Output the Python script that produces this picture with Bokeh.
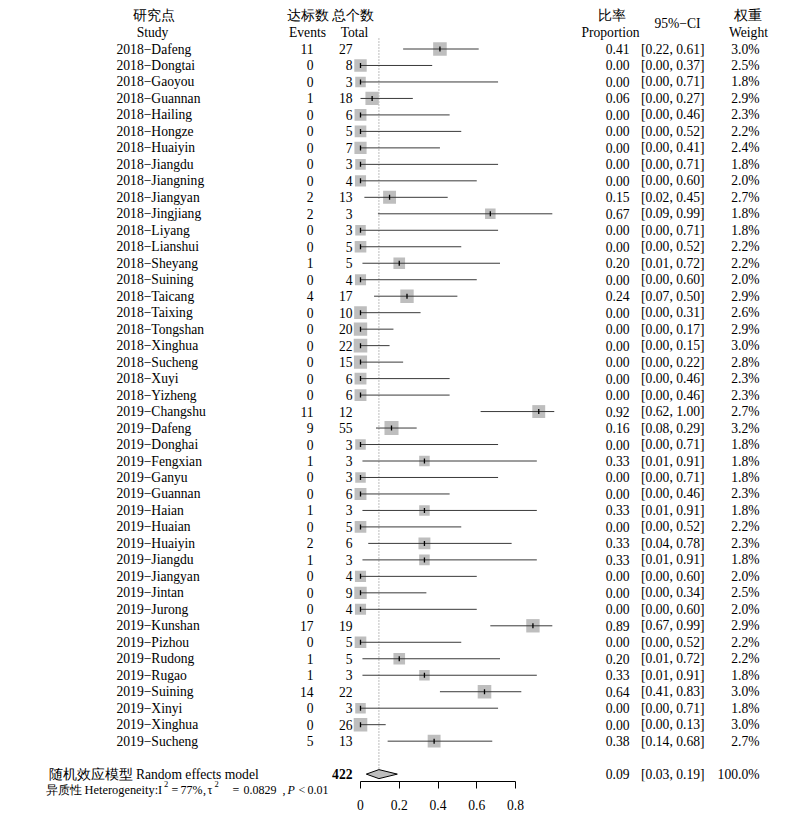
import numpy as np
from bokeh.plotting import figure
from bokeh.layouts import row
from bokeh.models import Range1d, LinearAxis, FixedTicker, CustomJSTickFormatter, ColumnDataSource
from bokeh.core.properties import value
from bokeh.embed import file_html
from bokeh.resources import INLINE

# ---------------- data ----------------
studies = ["2018\u2212Dafeng", "2018\u2212Dongtai", "2018\u2212Gaoyou", "2018\u2212Guannan", "2018\u2212Hailing",
           "2018\u2212Hongze", "2018\u2212Huaiyin", "2018\u2212Jiangdu", "2018\u2212Jiangning", "2018\u2212Jiangyan",
           "2018\u2212Jingjiang", "2018\u2212Liyang", "2018\u2212Lianshui", "2018\u2212Sheyang", "2018\u2212Suining",
           "2018\u2212Taicang", "2018\u2212Taixing", "2018\u2212Tongshan", "2018\u2212Xinghua", "2018\u2212Sucheng",
           "2018\u2212Xuyi", "2018\u2212Yizheng",
           "2019\u2212Changshu", "2019\u2212Dafeng", "2019\u2212Donghai", "2019\u2212Fengxian", "2019\u2212Ganyu",
           "2019\u2212Guannan", "2019\u2212Haian", "2019\u2212Huaian", "2019\u2212Huaiyin", "2019\u2212Jiangdu",
           "2019\u2212Jiangyan", "2019\u2212Jintan", "2019\u2212Jurong", "2019\u2212Kunshan", "2019\u2212Pizhou",
           "2019\u2212Rudong", "2019\u2212Rugao", "2019\u2212Suining", "2019\u2212Xinyi", "2019\u2212Xinghua",
           "2019\u2212Sucheng"]
events = [11, 0, 0, 1, 0, 0, 0, 0, 0, 2, 2, 0, 0, 1, 0, 4, 0, 0, 0, 0, 0, 0,
          11, 9, 0, 1, 0, 0, 1, 0, 2, 1, 0, 0, 0, 17, 0, 1, 1, 14, 0, 0, 5]
totals = [27, 8, 3, 18, 6, 5, 7, 3, 4, 13, 3, 3, 5, 5, 4, 17, 10, 20, 22, 15, 6, 6,
          12, 55, 3, 3, 3, 6, 3, 5, 6, 3, 4, 9, 4, 19, 5, 5, 3, 22, 3, 26, 13]
proportion = [0.41, 0.00, 0.00, 0.06, 0.00, 0.00, 0.00, 0.00, 0.00, 0.15, 0.67, 0.00, 0.00, 0.20, 0.00,
              0.24, 0.00, 0.00, 0.00, 0.00, 0.00, 0.00,
              0.92, 0.16, 0.00, 0.33, 0.00, 0.00, 0.33, 0.00, 0.33, 0.33, 0.00, 0.00, 0.00, 0.89, 0.00,
              0.20, 0.33, 0.64, 0.00, 0.00, 0.38]
ci_lower = [0.22, 0.00, 0.00, 0.00, 0.00, 0.00, 0.00, 0.00, 0.00, 0.02, 0.09, 0.00, 0.00, 0.01, 0.00,
            0.07, 0.00, 0.00, 0.00, 0.00, 0.00, 0.00,
            0.62, 0.08, 0.00, 0.01, 0.00, 0.00, 0.01, 0.00, 0.04, 0.01, 0.00, 0.00, 0.00, 0.67, 0.00,
            0.01, 0.01, 0.41, 0.00, 0.00, 0.14]
ci_upper = [0.61, 0.37, 0.71, 0.27, 0.46, 0.52, 0.41, 0.71, 0.60, 0.45, 0.99, 0.71, 0.52, 0.72, 0.60,
            0.50, 0.31, 0.17, 0.15, 0.22, 0.46, 0.46,
            1.00, 0.29, 0.71, 0.91, 0.71, 0.46, 0.91, 0.52, 0.78, 0.91, 0.60, 0.34, 0.60, 0.99, 0.52,
            0.72, 0.91, 0.83, 0.71, 0.13, 0.68]
weight = [3.0, 2.5, 1.8, 2.9, 2.3, 2.2, 2.4, 1.8, 2.0, 2.7, 1.8, 1.8, 2.2, 2.2, 2.0,
          2.9, 2.6, 2.9, 3.0, 2.8, 2.3, 2.3,
          2.7, 3.2, 1.8, 1.8, 1.8, 2.3, 1.8, 2.2, 2.3, 1.8, 2.0, 2.5, 2.0, 2.9, 2.2,
          2.2, 1.8, 3.0, 1.8, 3.0, 2.7]

pooled_est = 0.095          # plotted centre of the diamond (printed rounded as 0.09)
pooled_lower = 0.03
pooled_upper = 0.19
pooled_est_label = "0.09"
pooled_weight_label = "100.0%"
pooled_total = 422
i2_label = "77%"
tau2_label = "0.0829"
p_label = "0.01"
axis_ticks = [0, 0.2, 0.4, 0.6, 0.8]

# ---------------- layout helpers ----------------
ZERO_PX, PX_PER_UNIT = 360.0, 193.75      # page x of proportion 0, pixels per unit
ROW0_PX, ROW_PX = 48.5, 16.48             # page y of first study row, row pitch
SPLIT = 331                               # left text panel width
TOTAL_W = 788
AXIS_Y = 781                              # page y of the x axis line
TOTAL_H = 815


def xd(page_x):
    return (page_x - ZERO_PX) / PX_PER_UNIT


def yd(page_y):
    return -(page_y - ROW0_PX) / ROW_PX


SERIF = "Liberation Serif"
FS = "13.6px"
POOL_ROW = -44.0

n = len(studies)
ys = [-float(i) for i in range(n)]

src = ColumnDataSource(dict(
    study=studies, ev=[str(e) for e in events], tot=[str(t) for t in totals],
    est=proportion, lo=ci_lower, hi=ci_upper, y=ys,
    size=[7.85 * np.sqrt(w) for w in weight],
    est_txt=["%.2f" % v for v in proportion],
    ci_txt=["[%.2f, %.2f]" % (a, b) for a, b in zip(ci_lower, ci_upper)],
    w_txt=["%.1f%%" % w for w in weight],
))

common = dict(output_backend="svg", toolbar_location=None, x_axis_location=None, y_axis_location=None,
              min_border=0, min_border_left=0, min_border_right=0, min_border_top=0, min_border_bottom=0,
              outline_line_color=None, background_fill_color="white", border_fill_color="white")

txt = dict(text_font=value(SERIF), text_font_size=value(FS), text_baseline="middle", text_color="black")

hdr_text = ["研究点", "Study", "达标数", "Events", "总个数", "Total",
            "比率", "Proportion", "95%\u2212CI", "权重", "Weight"]
hdr_px = [153, 152, 307, 307, 352, 354, 611, 610, 677, 747, 748]
hdr_py = [15, 32, 15, 32, 15, 32, 15, 32, 23, 15, 32]

# ================= left panel: study / events / heterogeneity =================
L = figure(frame_width=SPLIT, frame_height=TOTAL_H,
           x_range=Range1d(0, SPLIT), y_range=Range1d(yd(TOTAL_H), yd(0)), **common)
L.grid.visible = False

L.text(x=116, y="y", text="study", text_align="left", source=src, **txt)
L.text(x=313, y="y", text="ev", text_align="right", source=src, **txt)
L.text(x=hdr_px[:4], y=[yd(v) for v in hdr_py[:4]], text=hdr_text[:4], text_align="center", **txt)
L.text(x=[48], y=[POOL_ROW], text=["随机效应模型 Random effects model"], text_align="left", **txt)

# heterogeneity line
het_y = yd(789)
sup_y = yd(783.5)
pieces = [
    (45, het_y, "异质性", "12.3px", "normal"),
    (84, het_y, "Heterogeneity:I", "12.4px", "normal"),
    (163.5, sup_y, "2", "8.5px", "normal"),
    (171, het_y, "=", "12px", "normal"),
    (180, het_y, i2_label, "12px", "normal"),
    (202.5, het_y, ",", "12px", "normal"),
    (207, het_y, "\u03c4", "12px", "normal"),
    (214, sup_y, "2", "8.5px", "normal"),
    (232, het_y, "=", "12px", "normal"),
    (243, het_y, tau2_label, "12px", "normal"),
    (282, het_y, ",", "12px", "normal"),
    (287, het_y, "P", "12px", "italic"),
    (298, het_y, "<", "12px", "normal"),
    (307, het_y, p_label, "12px", "normal"),
]
for px_, yy, t, fs, st in pieces:
    L.text(x=[px_], y=[yy], text=[t], text_font=value(SERIF), text_font_size=value(fs),
           text_font_style=st, text_baseline="middle", text_align="left", text_color="black")

# ================= right panel: totals + forest + statistics =================
R = figure(frame_width=TOTAL_W - SPLIT, frame_height=AXIS_Y,
           x_range=Range1d(xd(SPLIT), xd(TOTAL_W)), y_range=Range1d(yd(AXIS_Y), yd(0)), **common)
R.grid.visible = False

R.text(x=xd(352), y="y", text="tot", text_align="right", source=src, **txt)
R.text(x=[xd(352)], y=[POOL_ROW], text=[str(pooled_total)], text_align="right", text_font_style="bold", **txt)

# pooled dotted reference line
R.segment(x0=[pooled_est], y0=[yd(38)], x1=[pooled_est], y1=[POOL_ROW + 0.28],
          line_color="#7a7a7a", line_width=1, line_dash="1 2")

R.scatter(x="est", y="y", size="size", marker="square", fill_color="#bebebe", line_color=None, source=src)
R.segment(x0="lo", y0="y", x1="hi", y1="y", line_color="#3a3a3a", line_width=1, source=src)
R.scatter(x="est", y="y", marker="dash", angle=np.pi / 2, size=5, line_color="black", line_width=1.3, source=src)

h = 4.5 / ROW_PX
R.patch(x=[pooled_lower, pooled_est, pooled_upper, pooled_est],
        y=[POOL_ROW, POOL_ROW + h, POOL_ROW, POOL_ROW - h],
        fill_color="#bebebe", line_color="black", line_width=1)

R.text(x=xd(629), y="y", text="est_txt", text_align="right", source=src, **txt)
R.text(x=xd(704), y="y", text="ci_txt", text_align="right", source=src, **txt)
R.text(x=xd(759), y="y", text="w_txt", text_align="right", source=src, **txt)

R.text(x=[xd(v) for v in hdr_px[4:]], y=[yd(v) for v in hdr_py[4:]], text=hdr_text[4:],
       text_align="center", **txt)

R.text(x=[xd(629)], y=[POOL_ROW], text=[pooled_est_label], text_align="right", **txt)
R.text(x=[xd(704)], y=[POOL_ROW], text=["[%.2f, %.2f]" % (pooled_lower, pooled_upper)], text_align="right", **txt)
R.text(x=[xd(759)], y=[POOL_ROW], text=[pooled_weight_label], text_align="right", **txt)

ax = LinearAxis(ticker=FixedTicker(ticks=axis_ticks), bounds=(0, 0.8),
                formatter=CustomJSTickFormatter(code="return String(tick);"))
ax.axis_line_color = "black"
ax.axis_line_width = 1
ax.major_tick_line_color = "black"
ax.major_tick_in = 0
ax.major_tick_out = 7
ax.minor_tick_line_color = None
ax.major_label_standoff = 11
ax.major_label_text_font = SERIF
ax.major_label_text_font_size = FS
ax.major_label_text_color = "black"
R.add_layout(ax, "below")

layout = row(L, R, spacing=0)
open("out.html", "w").write(file_html(layout, INLINE))
